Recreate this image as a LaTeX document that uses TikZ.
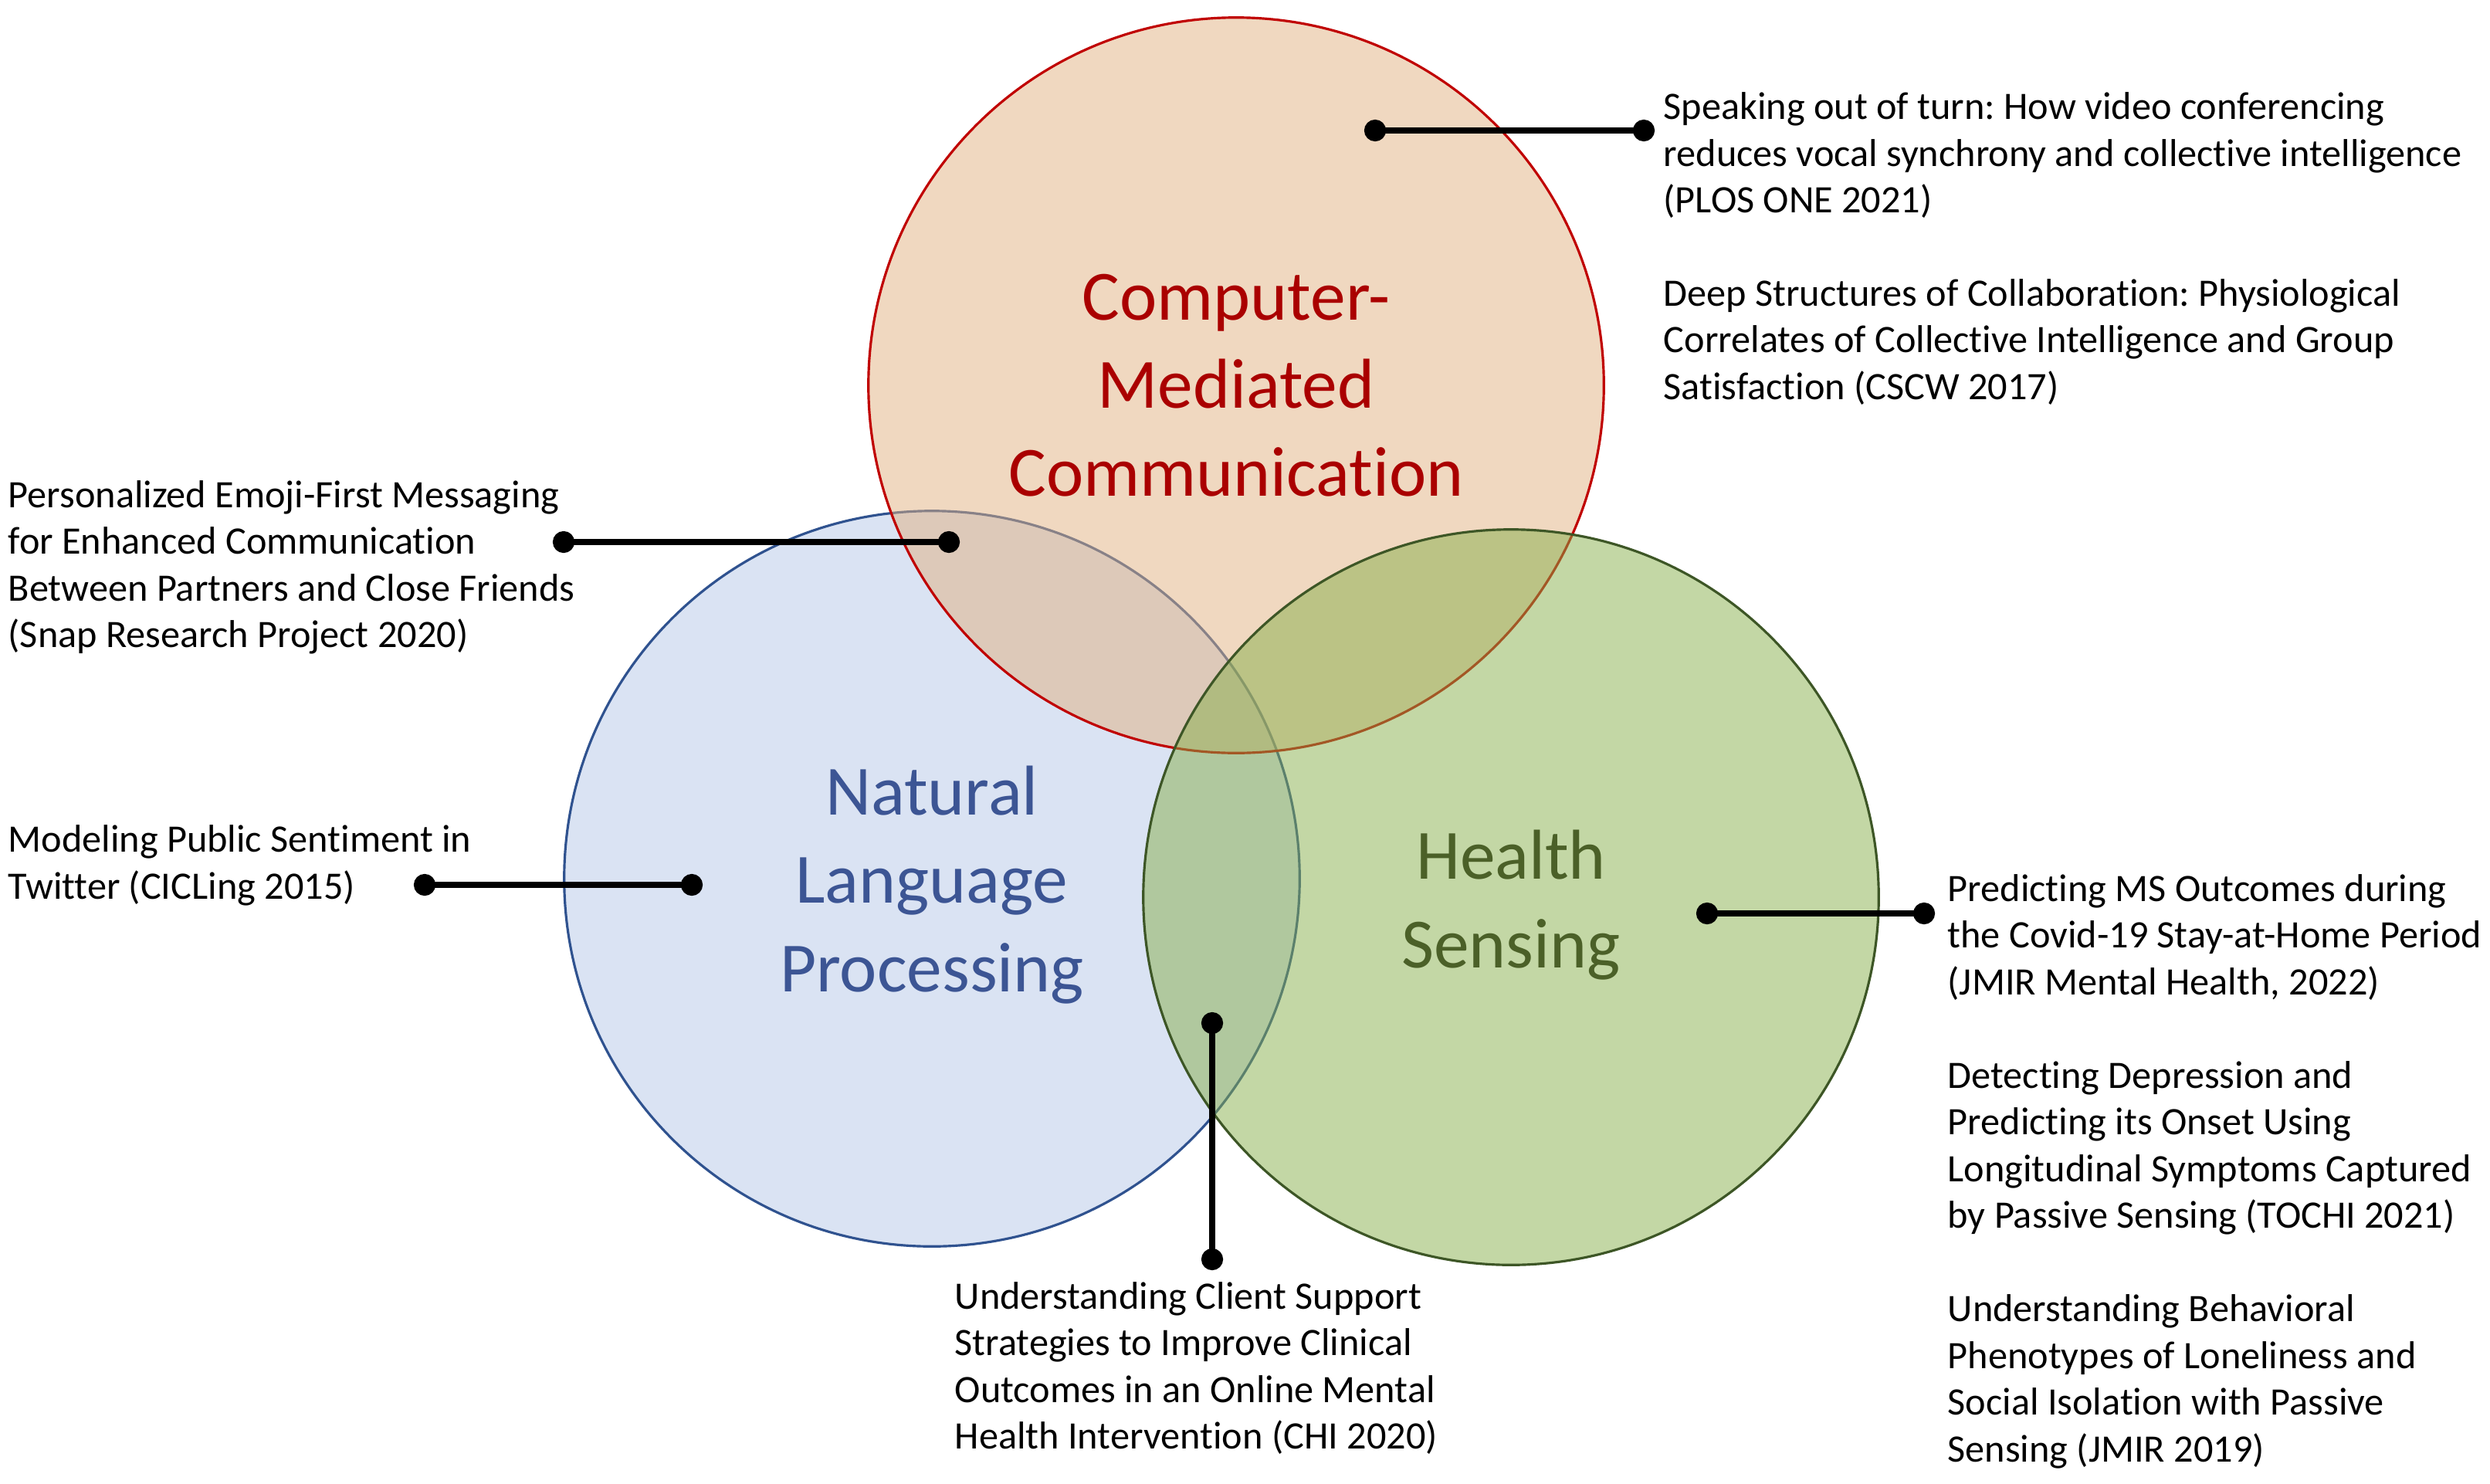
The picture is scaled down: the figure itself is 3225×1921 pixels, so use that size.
\documentclass[tikz,border=0pt]{standalone}
\usepackage{fontspec}
\setmainfont{Carlito}[Ligatures={NoCommon}]
\frenchspacing
\usetikzlibrary{arrows.meta}
\definecolor{cmcfill}{RGB}{225,177,129}
\definecolor{cmcline}{RGB}{192,0,0}
\definecolor{cmctext}{RGB}{170,0,0}
\definecolor{nlpfill}{RGB}{218,227,243}
\definecolor{nlpline}{RGB}{47,82,143}
\definecolor{nlptext}{RGB}{60,85,148}
\definecolor{hsfill}{RGB}{135,175,75}
\definecolor{hsline}{RGB}{61,86,38}
\definecolor{hstext}{RGB}{75,96,40}
\begin{document}
\begin{tikzpicture}[x=0.01cm,y=-0.01cm,
    venn/.style={circle, minimum size=9.52cm, inner sep=0pt, line width=0.9pt},
    topic/.style={inner sep=0pt, align=center, font=\fontsize{26}{32.5}\selectfont},
    paper/.style={anchor=west, inner sep=0pt, align=left, font=\fontsize{14.3}{17.2}\selectfont},
    pin/.style={line width=2.3pt, {Circle[length=8pt]}-{Circle[length=8pt]}, shorten <=-4pt, shorten >=-4pt}]
  \useasboundingbox (0,0) rectangle (3225,1921);
  \node[venn, fill=nlpfill, draw=nlpline] (nlp) at (1207,1138) {};
  \node[venn, fill=cmcfill, fill opacity=0.5, draw=cmcline] (cmc) at (1601,499) {};
  \node[venn, fill=hsfill, fill opacity=0.5, draw=hsline] (hs) at (1957,1162) {};
  \node[topic, text=nlptext] (nlplabel) at (1207,1146) {Natural\\Language\\Processing};
  \node[topic, text=cmctext] (cmclabel) at (1601,499) {Computer-\\Mediated\\Communication};
  \node[topic, text=hstext] (hslabel) at (1957,1172) {Health\\Sensing};
  % papers
  \node[paper] (t1) at (2154,322) {Speaking out of turn: How video conferencing\\reduces vocal synchrony and collective intelligence\\(PLOS ONE 2021)\\[17.2pt]Deep Structures of Collaboration: Physiological\\Correlates of Collective Intelligence and Group\\Satisfaction (CSCW 2017)};
  \node[paper] (t2) at (10,735) {Personalized Emoji-First Messaging\\for Enhanced Communication\\Between Partners and Close Friends\\(Snap Research Project 2020)};
  \node[paper] (t3) at (10,1121) {Modeling Public Sentiment in\\Twitter (CICLing 2015)};
  \node[paper] (t4) at (1236,1772) {Understanding Client Support\\Strategies to Improve Clinical\\Outcomes in an Online Mental\\Health Intervention (CHI 2020)};
  \node[paper] (t5) at (2522,1517) {Predicting MS Outcomes during\\the Covid-19 Stay-at-Home Period\\(JMIR Mental Health, 2022)\\[17.2pt]Detecting Depression and\\Predicting its Onset Using\\Longitudinal Symptoms Captured\\by Passive Sensing (TOCHI 2021)\\[17.2pt]Understanding Behavioral\\Phenotypes of Loneliness and\\Social Isolation with Passive\\Sensing (JMIR 2019)};
  % pins
  \coordinate (p1a) at (1781,169); \coordinate (p1b) at (2129,169);
  \coordinate (p2a) at (730,702); \coordinate (p2b) at (1229,702);
  \coordinate (p3a) at (550,1146); \coordinate (p3b) at (896,1146);
  \coordinate (p4a) at (1570,1325); \coordinate (p4b) at (1570,1631);
  \coordinate (p5a) at (2211,1183); \coordinate (p5b) at (2492,1183);
  \draw[pin] (p1a) -- (p1b);
  \draw[pin] (p2a) -- (p2b);
  \draw[pin] (p3a) -- (p3b);
  \draw[pin] (p4a) -- (p4b);
  \draw[pin] (p5a) -- (p5b);
\end{tikzpicture}
\end{document}
